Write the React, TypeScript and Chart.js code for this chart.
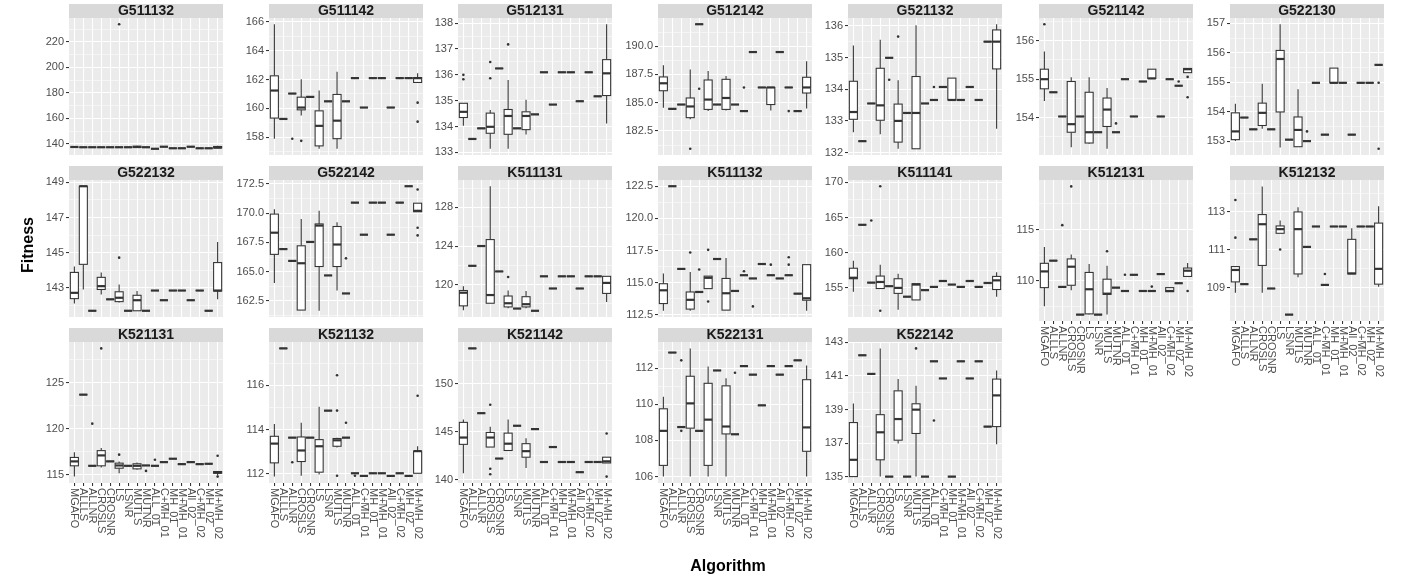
import React, { useEffect, useRef } from 'react';
import { Chart, registerables } from 'chart.js';
Chart.register(...registerables);

type Box = number | number[];

const CATEGORIES = ['MGAFO', 'ALLLS', 'ALLNR', 'CROSLS', 'CROSNR', 'LS', 'LSNR', 'MUTLS', 'MUTNR', 'ALL_01', 'C+MH_01', 'MH_01', 'M+MH_01', 'All_02', 'C+MH_02', 'MH_02', 'M+MH_02'];

// Each box: [lower whisker, Q1, median, Q3, upper whisker]; a single number = all runs equal.
const G511132: Box[] = [137.6, 137.4, 137.4, 137.4, 137.4, 137.4, 137.4, [137.0, 137.2, 137.6, 138.2, 138.6], 137.4, 136.2, 137.8, 136.6, 136.6, 137.8, 136.6, 136.6, [136.6, 136.8, 137.2, 138.0, 138.6]];
const G511132_OUT = [[6, 233.8]];
const G511132_TICKS = [140, 160, 180, 200, 220];

const G511142: Box[] = [[157.9, 159.33, 161.24, 162.26, 165.84], 159.27, 161.03, [159.5, 159.9, 160.06, 160.78, 162.03], 160.8, [157.2, 157.4, 158.79, 159.83, 161.24], 160.49, [157.2, 157.9, 159.15, 160.97, 162.55], 160.49, 162.1, 160.06, 162.1, 162.1, 160.06, 162.1, 162.1, [161.8, 161.8, 162.1, 162.14, 162.44]];
const G511142_OUT = [[3, 157.9], [4, 157.75], [17, 160.4], [17, 159.08]];
const G511142_TICKS = [158, 160, 162, 164, 166];

const G512131: Box[] = [[134.03, 134.35, 134.57, 134.9, 134.9], 133.52, 133.93, [133.14, 133.74, 133.99, 134.52, 134.64], 136.25, [133.14, 133.7, 134.41, 134.66, 135.8], 133.93, [133.69, 133.88, 134.41, 134.57, 135.04], 134.47, 136.1, 134.85, 136.1, 136.1, 134.98, 136.1, 135.17, [134.12, 135.2, 136.06, 136.59, 137.96]];
const G512131_OUT = [[1, 136.0], [1, 135.83], [4, 136.5], [4, 135.87], [6, 137.18]];
const G512131_TICKS = [133, 134, 135, 136, 137, 138];

const G512142: Box[] = [[184.55, 186.06, 186.72, 187.28, 188.32], 184.46, 184.84, [183.54, 183.68, 184.67, 185.42, 187.94], 191.94, [184.26, 184.41, 185.28, 187.01, 187.8], 184.84, [184.32, 184.41, 185.42, 187.07, 187.36], 184.84, 184.26, 189.48, 186.35, [184.32, 184.84, 186.35, 186.35, 186.35], 189.48, 186.35, 184.26, [184.49, 185.86, 186.35, 187.25, 188.67]];
const G512142_OUT = [[4, 180.93], [5, 186.23], [10, 186.35], [15, 184.26]];
const G512142_TICKS = [182.5, 185, 187.5, 190];

const G521132: Box[] = [[132.64, 133.05, 133.28, 134.25, 135.38], 132.36, 133.55, [132.58, 133.02, 133.49, 134.66, 135.56], 134.99, [132.12, 132.33, 133.0, 133.53, 134.28], 133.25, [132.12, 132.12, 133.25, 134.4, 136.02], 133.55, 133.66, 134.07, [133.66, 133.66, 133.66, 134.35, 134.35], 133.66, 134.07, 133.66, 135.5, [132.75, 134.64, 135.5, 135.87, 136.05]];
const G521132_OUT = [[5, 134.3], [6, 135.66], [10, 134.07]];
const G521132_TICKS = [132, 133, 134, 135, 136];

const G521142: Box[] = [[154.43, 154.75, 155.0, 155.26, 155.72], 154.66, 154.03, [153.23, 153.62, 153.83, 154.94, 155.05], 154.03, [153.32, 153.34, 153.62, 154.66, 155.05], 153.62, [153.19, 153.77, 154.21, 154.51, 154.77], 153.62, 155.0, 154.03, 154.94, [155.02, 155.02, 155.02, 155.26, 155.26], 154.03, 155.0, 154.83, [155.17, 155.17, 155.26, 155.28, 155.28]];
const G521142_OUT = [[1, 156.43], [9, 153.85], [16, 154.94], [17, 155.06], [17, 154.53]];
const G521142_TICKS = [154, 155, 156];

const G522130: Box[] = [[153.0, 153.05, 153.33, 153.96, 154.27], 153.8, 153.4, [153.42, 153.53, 153.96, 154.29, 154.95], 153.4, [152.78, 153.99, 155.79, 156.08, 156.97], 153.05, [152.81, 152.81, 153.38, 153.82, 154.76], 153.0, 154.98, 153.22, [154.98, 154.98, 154.98, 155.48, 155.48], 154.98, 153.22, 154.98, 154.98, 155.59];
const G522130_OUT = [[9, 153.33], [17, 154.98], [17, 152.74]];
const G522130_TICKS = [153, 154, 155, 156, 157];

const G522132: Box[] = [[142.11, 142.39, 142.72, 143.88, 144.21], [142.91, 144.34, 148.78, 148.78, 148.78], 141.7, [142.63, 142.91, 143.1, 143.6, 143.88], 142.35, [142.17, 142.22, 142.44, 142.78, 143.19], 141.7, [141.7, 141.7, 142.3, 142.58, 142.82], 141.7, 142.85, 142.3, 142.85, 142.85, 142.3, 142.85, 141.7, [142.35, 142.82, 142.85, 144.44, 145.61]];
const G522132_OUT = [[6, 144.72]];
const G522132_TICKS = [143, 145, 147, 149];

const G522142: Box[] = [[164.04, 166.48, 168.33, 169.92, 170.34], 166.93, 165.92, [161.72, 161.72, 165.72, 167.21, 169.5], 167.54, [161.66, 165.44, 168.94, 169.08, 170.2], 164.68, [163.4, 165.44, 167.32, 168.86, 169.22], 163.14, 170.9, 168.16, 170.9, 170.9, 168.16, 170.9, 172.3, [170.12, 170.12, 170.2, 170.85, 170.85]];
const G522142_OUT = [[9, 166.14], [17, 172.02], [17, 168.75], [17, 168.1]];
const G522142_TICKS = [162.5, 165, 167.5, 170, 172.5];

const K511131: Box[] = [[117.35, 117.8, 119.16, 119.39, 119.84], 121.95, 124.0, [118.07, 118.07, 118.92, 124.67, 130.2], 121.37, [117.56, 117.69, 118.07, 118.82, 119.39], 117.52, [117.56, 117.69, 117.97, 118.75, 119.33], 117.29, 120.86, 119.6, 120.86, 120.86, 119.6, 120.86, 120.86, [118.2, 119.09, 120.18, 120.86, 120.86]];
const K511131_OUT = [[6, 120.79]];
const K511131_TICKS = [120, 124, 128];

const K511132: Box[] = [[112.83, 113.39, 114.42, 114.93, 115.72], 122.5, 116.08, [112.83, 112.96, 113.68, 114.29, 115.85], 114.29, [114.55, 114.55, 115.39, 115.52, 115.52], 116.85, [112.88, 112.88, 114.19, 115.34, 116.92], 114.37, 115.59, 115.34, 116.46, 115.59, 115.34, 115.59, 114.16, [112.83, 113.65, 113.8, 116.41, 116.41]];
const K511132_OUT = [[4, 117.36], [5, 116.03], [6, 117.56], [6, 113.55], [10, 115.9], [11, 113.17], [13, 116.41], [15, 116.98], [15, 116.41]];
const K511132_TICKS = [112.5, 115, 117.5, 120, 122.5];

const K511141: Box[] = [[154.45, 156.3, 156.44, 157.79, 158.86], 163.96, 155.75, [154.91, 154.91, 155.84, 156.68, 158.3], 155.24, [151.89, 154.22, 155.0, 156.3, 157.0], 153.75, [153.29, 153.29, 155.47, 155.6, 155.6], 154.68, 155.14, 155.98, 155.47, 155.14, 155.98, 155.14, 155.7, [153.75, 154.77, 156.07, 156.63, 157.23]];
const K511141_OUT = [[3, 164.57], [4, 169.44], [4, 151.75]];
const K511141_TICKS = [155, 160, 165, 170];

const K512131: Box[] = [[107.53, 109.34, 110.92, 111.71, 113.29], 111.97, 109.41, [109.08, 109.57, 111.38, 112.14, 112.57], 106.71, [106.71, 106.78, 109.18, 110.82, 111.64], 106.71, [106.71, 108.68, 108.75, 110.16, 111.48], 109.34, 109.01, 110.59, 109.01, 109.01, 110.66, [108.95, 108.95, 109.01, 109.34, 109.34], 109.77, [110.43, 110.43, 110.99, 111.25, 111.74]];
const K512131_OUT = [[3, 115.43], [4, 119.21], [8, 112.89], [10, 110.59], [13, 109.44], [17, 109.01]];
const K512131_TICKS = [110, 115];

const K512132: Box[] = [[108.73, 109.3, 109.93, 110.11, 110.11], 109.18, 111.55, [108.73, 110.17, 112.35, 112.86, 114.35], 108.95, [111.87, 111.87, 112.09, 112.26, 112.55], 107.57, [109.54, 109.72, 112.09, 113.0, 113.25], 111.15, 112.23, 109.14, 112.23, 112.23, [109.72, 109.72, 109.75, 111.55, 112.14], 112.23, 112.23, [109.04, 109.18, 109.99, 112.41, 113.3]];
const K512132_OUT = [[1, 113.63], [1, 111.64], [6, 111.01], [11, 109.72]];
const K512132_TICKS = [109, 111, 113];

const K521131: Box[] = [[114.82, 115.99, 116.47, 116.9, 117.45], 123.72, 115.99, [115.81, 115.99, 117.12, 117.64, 117.93], 116.47, [115.18, 115.73, 116.03, 116.28, 116.47], 115.99, [115.55, 115.66, 115.99, 116.21, 116.35], 116.03, 115.99, 116.39, 116.76, 116.17, 116.39, 116.17, 116.21, [114.93, 115.18, 115.26, 115.37, 115.37]];
const K521131_OUT = [[3, 120.57], [4, 128.74], [6, 117.2], [9, 115.44], [10, 116.65], [17, 117.09], [17, 114.82]];
const K521131_TICKS = [115, 120, 125];

const K521132: Box[] = [[111.88, 112.5, 113.37, 113.7, 114.25], 117.67, 113.64, [111.92, 112.56, 113.06, 113.67, 114.31], 113.64, [111.97, 112.08, 113.25, 113.55, 115.04], 114.86, [113.19, 113.25, 113.52, 113.6, 113.64], 113.64, 112.03, 111.91, 112.03, 112.03, 111.91, 112.03, 111.91, [112.03, 112.03, 113.03, 113.03, 113.25]];
const K521132_OUT = [[3, 112.53], [8, 116.46], [8, 114.86], [8, 111.92], [9, 114.31], [10, 111.92], [17, 115.53]];
const K521132_TICKS = [112, 114, 116];

const K521142: Box[] = [[140.71, 143.71, 144.42, 146.0, 146.29], 153.71, 146.96, [143.43, 143.43, 144.42, 144.95, 145.55], 142.23, [143.07, 143.07, 143.78, 144.88, 146.29], 145.65, [141.24, 142.37, 143.0, 143.78, 144.35], 145.3, 141.87, 143.43, 141.87, 141.87, 140.81, 141.87, 141.87, [141.77, 141.77, 141.94, 142.37, 142.37]];
const K521142_OUT = [[4, 147.84], [4, 141.17], [4, 140.6], [17, 144.84], [17, 140.35]];
const K521142_TICKS = [140, 145, 150];

const K522131: Box[] = [[106.0, 106.62, 108.53, 109.75, 110.41], 112.86, 108.74, [106.0, 108.68, 110.05, 111.55, 113.09], 108.53, [106.0, 106.62, 109.15, 111.16, 112.09], 111.87, [106.0, 108.36, 108.77, 111.02, 111.44], 108.34, 112.11, 111.64, 109.94, 112.11, 111.64, 112.11, 112.43, [106.0, 107.4, 108.72, 111.36, 112.15]];
const K522131_OUT = [[3, 112.43], [3, 108.53], [9, 111.74]];
const K522131_TICKS = [106, 108, 110, 112];

const K522142: Box[] = [[135.0, 135.0, 136.0, 138.22, 139.36], 142.23, 141.12, [135.0, 136.0, 137.64, 138.69, 142.64], 135.0, [136.97, 137.17, 138.43, 140.11, 140.81], 135.0, [135.0, 137.57, 138.99, 139.34, 140.41], 135.0, 141.87, 140.85, 135.0, 141.87, 140.85, 141.87, 137.98, [136.93, 137.98, 139.84, 140.81, 141.32]];
const K522142_OUT = [[8, 142.64], [10, 138.34]];
const K522142_TICKS = [135, 137, 139, 141, 143];

// ---- layout ----
const COL_LEFT = [69, 269, 458, 658, 848, 1039, 1230];
const ROW_TOP = [4, 166, 328];
const PANEL_W = 158;
const PANEL_H = 141;
const STRIP_H = 14;
const AXIS_W = 40;
const BOTTOM_H = 72;
const FONT = '"Liberation Sans", Arial, sans-serif';

type PanelDef = { name: string; boxes: Box[]; out: number[][]; ticks: number[]; col: number; row: number; showX: boolean };

const PANELS: PanelDef[] = [
  { name: 'G511132', boxes: G511132, out: G511132_OUT, ticks: G511132_TICKS, col: 0, row: 0, showX: false },
  { name: 'G511142', boxes: G511142, out: G511142_OUT, ticks: G511142_TICKS, col: 1, row: 0, showX: false },
  { name: 'G512131', boxes: G512131, out: G512131_OUT, ticks: G512131_TICKS, col: 2, row: 0, showX: false },
  { name: 'G512142', boxes: G512142, out: G512142_OUT, ticks: G512142_TICKS, col: 3, row: 0, showX: false },
  { name: 'G521132', boxes: G521132, out: G521132_OUT, ticks: G521132_TICKS, col: 4, row: 0, showX: false },
  { name: 'G521142', boxes: G521142, out: G521142_OUT, ticks: G521142_TICKS, col: 5, row: 0, showX: false },
  { name: 'G522130', boxes: G522130, out: G522130_OUT, ticks: G522130_TICKS, col: 6, row: 0, showX: false },
  { name: 'G522132', boxes: G522132, out: G522132_OUT, ticks: G522132_TICKS, col: 0, row: 1, showX: false },
  { name: 'G522142', boxes: G522142, out: G522142_OUT, ticks: G522142_TICKS, col: 1, row: 1, showX: false },
  { name: 'K511131', boxes: K511131, out: K511131_OUT, ticks: K511131_TICKS, col: 2, row: 1, showX: false },
  { name: 'K511132', boxes: K511132, out: K511132_OUT, ticks: K511132_TICKS, col: 3, row: 1, showX: false },
  { name: 'K511141', boxes: K511141, out: K511141_OUT, ticks: K511141_TICKS, col: 4, row: 1, showX: false },
  { name: 'K512131', boxes: K512131, out: K512131_OUT, ticks: K512131_TICKS, col: 5, row: 1, showX: true },
  { name: 'K512132', boxes: K512132, out: K512132_OUT, ticks: K512132_TICKS, col: 6, row: 1, showX: true },
  { name: 'K521131', boxes: K521131, out: K521131_OUT, ticks: K521131_TICKS, col: 0, row: 2, showX: true },
  { name: 'K521132', boxes: K521132, out: K521132_OUT, ticks: K521132_TICKS, col: 1, row: 2, showX: true },
  { name: 'K521142', boxes: K521142, out: K521142_OUT, ticks: K521142_TICKS, col: 2, row: 2, showX: true },
  { name: 'K522131', boxes: K522131, out: K522131_OUT, ticks: K522131_TICKS, col: 3, row: 2, showX: true },
  { name: 'K522142', boxes: K522142, out: K522142_OUT, ticks: K522142_TICKS, col: 4, row: 2, showX: true },
];

const toStats = (b: Box): number[] => (typeof b === 'number' ? [b, b, b, b, b] : b);

function Panel({ p }: { p: PanelDef }) {
  const ref = useRef<HTMLCanvasElement>(null);
  const width = AXIS_W + PANEL_W;
  const height = STRIP_H + PANEL_H + (p.showX ? BOTTOM_H : 0);

  useEffect(() => {
    const stats = p.boxes.map(toStats);
    let dmin = Infinity;
    let dmax = -Infinity;
    stats.forEach((s) => { dmin = Math.min(dmin, s[0]); dmax = Math.max(dmax, s[4]); });
    p.out.forEach((o) => { dmin = Math.min(dmin, o[1]); dmax = Math.max(dmax, o[1]); });
    const span = dmax - dmin;
    const ymin = dmin - 0.05 * span;
    const ymax = dmax + 0.05 * span;
    const step = p.ticks[1] - p.ticks[0];
    const majors = new Set(p.ticks);
    const minors: number[] = [];
    p.ticks.forEach((t) => minors.push(t - step / 2));
    minors.push(p.ticks[p.ticks.length - 1] + step / 2);
    minors.push(p.ticks[0] - step * 1.5);
    const yVals = [...p.ticks, ...minors].filter((v) => v >= ymin && v <= ymax).sort((a, b) => a - b);
    const decimals = p.ticks.some((t) => !Number.isInteger(t)) ? 1 : 0;

    const facet = {
      id: 'facet',
      beforeDraw(chart: any) {
        const { ctx, chartArea } = chart;
        ctx.save();
        ctx.fillStyle = '#EBEBEB';
        ctx.fillRect(chartArea.left, chartArea.top, chartArea.right - chartArea.left, chartArea.bottom - chartArea.top);
        ctx.fillStyle = '#D9D9D9';
        ctx.fillRect(chartArea.left, chartArea.top - STRIP_H, chartArea.right - chartArea.left, STRIP_H);
        ctx.fillStyle = '#1A1A1A';
        ctx.font = `bold 14px ${FONT}`;
        ctx.textAlign = 'center';
        ctx.textBaseline = 'middle';
        ctx.fillText(p.name, (chartArea.left + chartArea.right) / 2, chartArea.top - STRIP_H / 2 + 0.5);
        ctx.restore();
      },
      beforeDatasetsDraw(chart: any) {
        const { ctx } = chart;
        const xs = chart.scales.x;
        const ys = chart.scales.y;
        const hw = (xs.getPixelForValue(1.45) - xs.getPixelForValue(1)) ;
        ctx.save();
        ctx.strokeStyle = '#333333';
        stats.forEach((s, i) => {
          const x = xs.getPixelForValue(i + 1);
          const [lo, q1, md, q3, hi] = s.map((v) => ys.getPixelForValue(v));
          ctx.lineWidth = 1.07;
          ctx.beginPath();
          ctx.moveTo(x, hi); ctx.lineTo(x, q3);
          ctx.moveTo(x, q1); ctx.lineTo(x, lo);
          ctx.stroke();
          ctx.fillStyle = '#FFFFFF';
          ctx.fillRect(x - hw, q3, hw * 2, q1 - q3);
          ctx.strokeRect(x - hw, q3, hw * 2, q1 - q3);
          ctx.lineWidth = 2.2;
          ctx.beginPath();
          ctx.moveTo(x - hw, md); ctx.lineTo(x + hw, md);
          ctx.stroke();
        });
        ctx.restore();
      },
      afterDraw(chart: any) {
        if (!p.showX) return;
        const { ctx, chartArea } = chart;
        const xs = chart.scales.x;
        ctx.save();
        ctx.fillStyle = '#4D4D4D';
        ctx.font = `11px ${FONT}`;
        ctx.textAlign = 'left';
        ctx.textBaseline = 'middle';
        CATEGORIES.forEach((c, i) => {
          ctx.save();
          ctx.translate(xs.getPixelForValue(i + 1), chartArea.bottom + 5);
          ctx.rotate(Math.PI / 2);
          ctx.fillText(c, 0, 0);
          ctx.restore();
        });
        ctx.restore();
      },
    };

    const chart = new Chart(ref.current as HTMLCanvasElement, {
      type: 'scatter',
      data: {
        datasets: [{
          data: p.out.map((o) => ({ x: o[0], y: o[1] })),
          pointRadius: 1.3,
          pointBackgroundColor: '#333333',
          pointBorderWidth: 0,
        }],
      },
      options: {
        responsive: false,
        animation: false,
        events: [],
        layout: { padding: { top: STRIP_H, left: 0, right: 0, bottom: 0 } },
        plugins: { legend: { display: false }, tooltip: { enabled: false } },
        scales: {
          x: {
            type: 'linear',
            min: 0.4,
            max: 17.6,
            bounds: 'data',
            afterBuildTicks: (s: any) => { s.ticks = CATEGORIES.map((_, i) => ({ value: i + 1 })); },
            afterFit: (s: any) => { s.height = p.showX ? BOTTOM_H : 0; s.paddingLeft = 0; s.paddingRight = 0; },
            ticks: { display: false },
            grid: { color: '#FFFFFF', lineWidth: 1.07, drawTicks: p.showX, tickLength: 3, tickColor: '#333333', tickWidth: 1.07 },
            border: { display: false },
          },
          y: {
            type: 'linear',
            min: ymin,
            max: ymax,
            bounds: 'data',
            afterBuildTicks: (s: any) => { s.ticks = yVals.map((v) => ({ value: v })); },
            afterFit: (s: any) => { s.width = AXIS_W; s.paddingTop = 0; s.paddingBottom = 0; },
            ticks: {
              autoSkip: false,
              padding: 2,
              color: '#4D4D4D',
              font: { size: 11, family: FONT },
              callback: (v: any) => (majors.has(v) ? Number(v).toFixed(decimals) : ''),
            },
            grid: {
              color: '#FFFFFF',
              lineWidth: (c: any) => (majors.has(c.tick?.value) ? 1.07 : 0.53),
              tickLength: 3,
              tickWidth: 1.07,
              tickColor: (c: any) => (majors.has(c.tick?.value) ? '#333333' : 'rgba(0,0,0,0)'),
            },
            border: { display: false },
          },
        },
      } as any,
      plugins: [facet],
    });
    return () => chart.destroy();
  }, []);

  return (
    <canvas
      ref={ref}
      width={width}
      height={height}
      style={{ position: 'absolute', left: COL_LEFT[p.col] - AXIS_W, top: ROW_TOP[p.row], width, height }}
    />
  );
}

export default function App() {
  return (
    <div style={{ position: 'absolute', left: 0, top: 0, width: 1406, height: 582, background: '#FFFFFF', overflow: 'hidden' }}>
      {PANELS.map((p) => <Panel key={p.name} p={p} />)}
      <div style={{ position: 'absolute', left: 28, top: 245, transform: 'translate(-50%, -50%) rotate(-90deg)', fontFamily: FONT, fontWeight: 'bold', fontSize: 16, color: '#000', whiteSpace: 'nowrap' }}>Fitness</div>
      <div style={{ position: 'absolute', left: 728, top: 566, transform: 'translate(-50%, -50%)', fontFamily: FONT, fontWeight: 'bold', fontSize: 16, color: '#000', whiteSpace: 'nowrap' }}>Algorithm</div>
    </div>
  );
}
